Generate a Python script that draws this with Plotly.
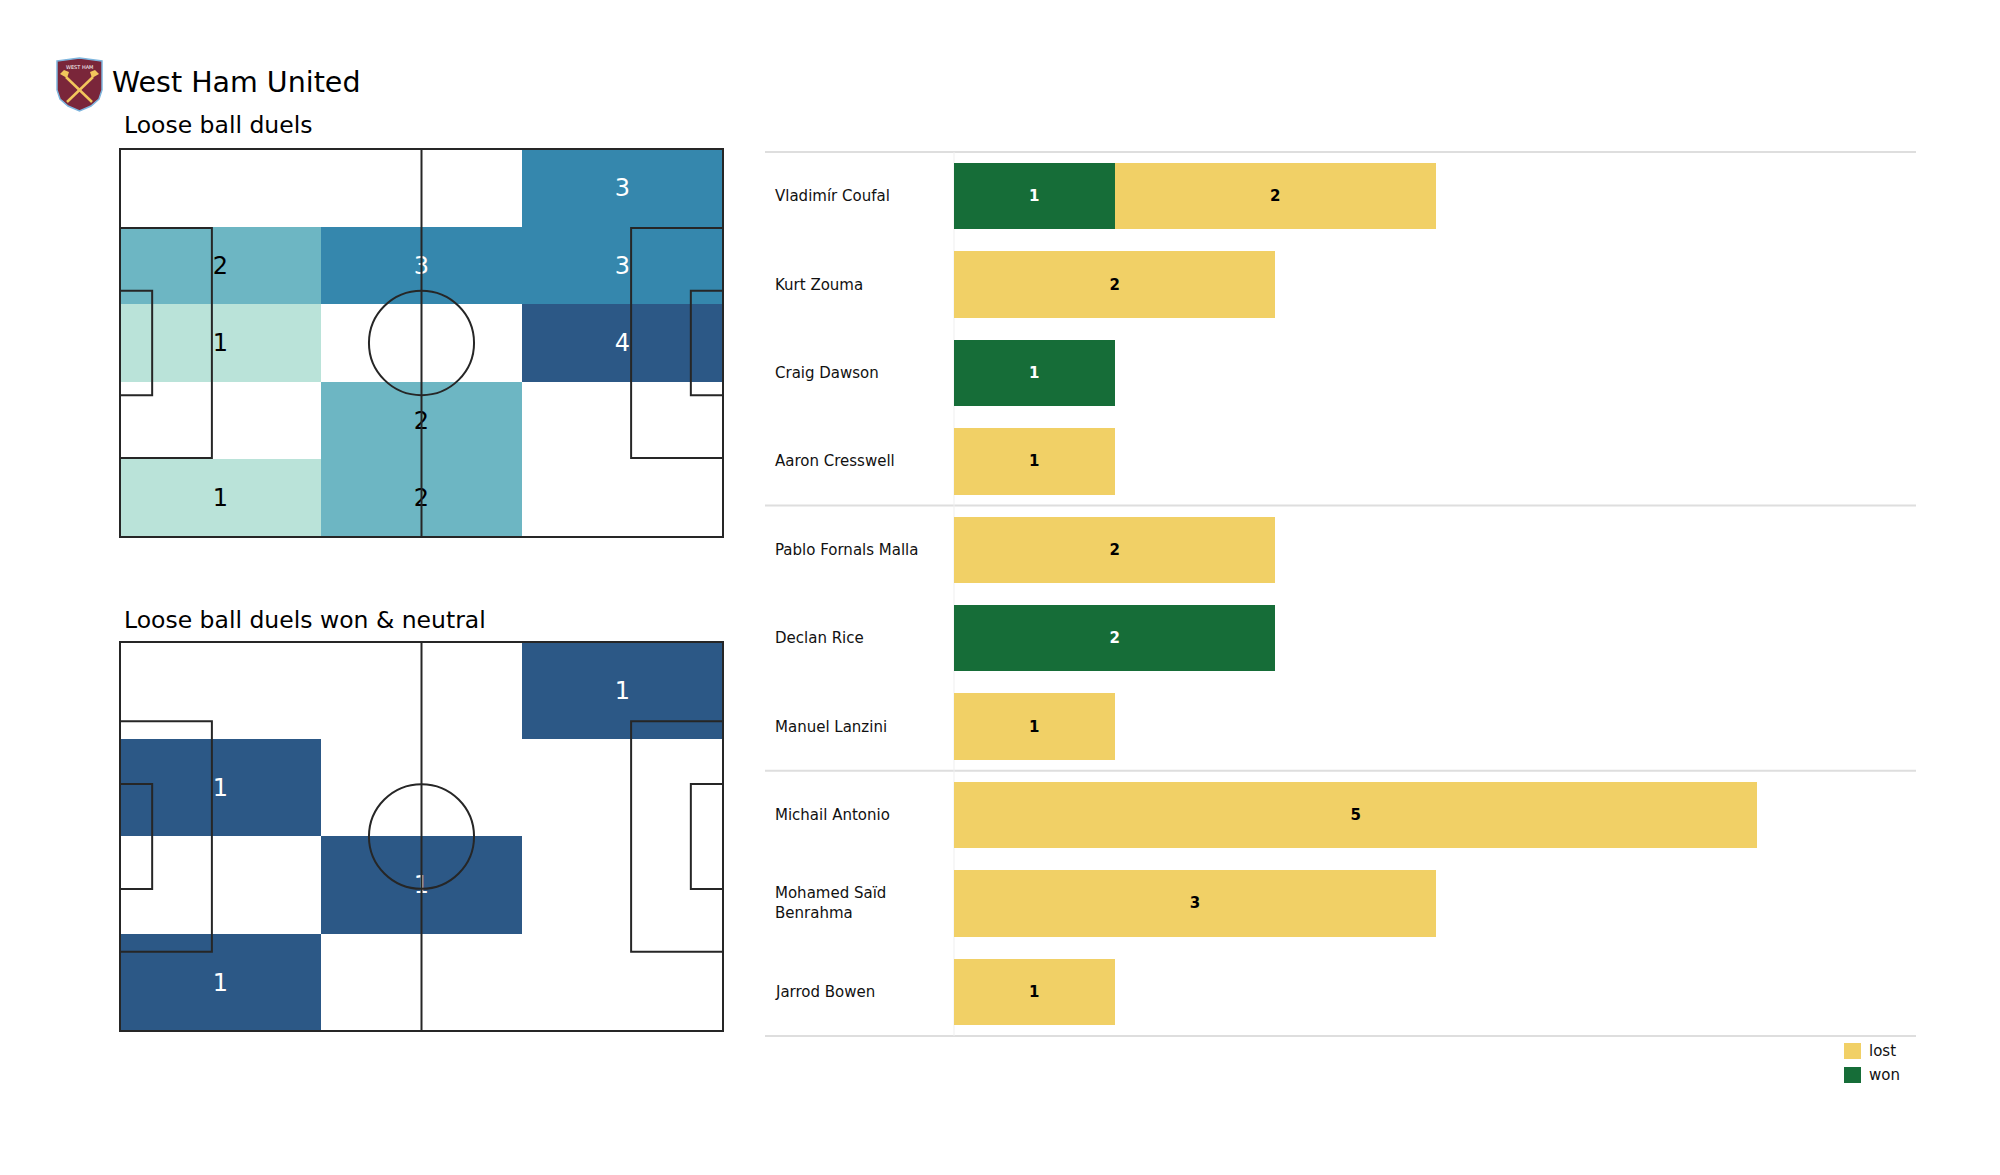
import plotly.graph_objects as go

W, H = 2000, 1175
OFF = 8  # default page margin of the html body

# ---------------- data ----------------
players = ["Vladimír Coufal", "Kurt Zouma", "Craig Dawson", "Aaron Cresswell",
           "Pablo Fornals Malla", "Declan Rice", "Manuel Lanzini",
           "Michail Antonio", "Mohamed Saïd Benrahma", "Jarrod Bowen"]
player_labels = ["Vladimír Coufal", "Kurt Zouma", "Craig Dawson", "Aaron Cresswell",
                 "Pablo Fornals Malla", "Declan Rice", "Manuel Lanzini",
                 "Michail Antonio", "Mohamed Saïd<br>Benrahma", "Jarrod Bowen"]
won = [1, 0, 1, 0, 0, 2, 0, 0, 0, 0]
lost = [2, 2, 0, 1, 2, 0, 1, 5, 3, 1]
group_sizes = [4, 3, 3]

# counts per zone, rows listed top to bottom, columns left to right
duels_grid = [
    [0, 0, 3],
    [2, 3, 3],
    [1, 0, 4],
    [0, 2, 0],
    [1, 2, 0],
]
won_neutral_grid = [
    [0, 0, 1],
    [1, 0, 0],
    [0, 1, 0],
    [1, 0, 0],
]

title = "West Ham United"
sub1 = "Loose ball duels"
sub2 = "Loose ball duels won & neutral"
legend_names = ["lost", "won"]

# ---------------- style ----------------
FONT = "DejaVu Sans"
C_WON = "#166d38"
C_LOST = "#f1d066"
HEAT_SCALE = [[0, "#ffffff"], [0.25, "#bae3d9"], [0.5, "#6db6c3"],
              [0.75, "#3587ad"], [1.0, "#2c5886"]]
LINE = "#262626"
PL, PW = 105.0, 68.0
BOX_D, BOX_W = 16.0, 40.32
GA_D, GA_W = 5.6, 18.32
CIRCLE_R = 9.15


def px(x):
    return (x - OFF) / W


def py(y):
    return 1 - (y - OFF) / H


fig = go.Figure()
shapes = []
annotations = []


def add_pitch(grid, xa, ya, x0, x1, y0, y1, pad=0.6):
    n_rows, n_cols = len(grid), len(grid[0])
    vmax = max(max(r) for r in grid)
    cw, rh = PL / n_cols, PW / n_rows
    xs = [(c + 0.5) * cw for c in range(n_cols)]
    ys = [(r + 0.5) * rh for r in range(n_rows)]  # bottom to top
    z = []
    for r in range(n_rows):
        row = grid[n_rows - 1 - r]
        z.append([v if v > 0 else None for v in row])
    fig.add_trace(go.Heatmap(x=xs, y=ys, z=z, zmin=0, zmax=vmax,
                             colorscale=HEAT_SCALE, showscale=False,
                             hoverinfo="skip", xaxis=xa, yaxis=ya))
    tx, ty, tt, tc = [], [], [], []
    for r in range(n_rows):
        for c in range(n_cols):
            v = grid[r][c]
            if v > 0:
                tx.append(xs[c])
                ty.append(PW - (r + 0.5) * rh - 0.4)
                tt.append(str(v))
                tc.append("white" if v / vmax > 0.6 else "black")
    fig.add_trace(go.Scatter(x=tx, y=ty, text=tt, mode="text",
                             textfont=dict(family=FONT, size=24, color=tc),
                             textposition="middle center", hoverinfo="skip",
                             showlegend=False, xaxis=xa, yaxis=ya))
    sx = (x1 - x0) / PL
    sy = (y1 - y0) / PW
    xk = "xaxis" + xa[1:]
    yk = "yaxis" + ya[1:]
    fig.update_layout(**{
        xk: dict(domain=[px(x0 - pad * sx), px(x1 + pad * sx)], range=[-pad, PL + pad],
                 visible=False, anchor=ya, fixedrange=True),
        yk: dict(domain=[py(y1 + pad * sy), py(y0 - pad * sy)], range=[-pad, PW + pad],
                 visible=False, anchor=xa, fixedrange=True),
    })
    ln = dict(color=LINE, width=2)
    ref = dict(xref=xa, yref=ya)

    def rect(a, b, c, d):
        shapes.append(dict(type="rect", x0=a, x1=b, y0=c, y1=d, line=ln,
                           fillcolor="rgba(0,0,0,0)", **ref))

    rect(0, PL, 0, PW)
    shapes.append(dict(type="line", x0=PL / 2, x1=PL / 2, y0=0, y1=PW, line=ln, **ref))
    rect(0, BOX_D, PW / 2 - BOX_W / 2, PW / 2 + BOX_W / 2)
    rect(PL - BOX_D, PL, PW / 2 - BOX_W / 2, PW / 2 + BOX_W / 2)
    rect(0, GA_D, PW / 2 - GA_W / 2, PW / 2 + GA_W / 2)
    rect(PL - GA_D, PL, PW / 2 - GA_W / 2, PW / 2 + GA_W / 2)
    shapes.append(dict(type="circle", x0=PL / 2 - CIRCLE_R, x1=PL / 2 + CIRCLE_R,
                       y0=PW / 2 - CIRCLE_R, y1=PW / 2 + CIRCLE_R, line=ln, **ref))


add_pitch(duels_grid, "x2", "y2", 120, 723, 149, 537)
add_pitch(won_neutral_grid, "x3", "y3", 120, 723, 642, 1031)

# ---------------- bars ----------------
fig.add_trace(go.Bar(
    y=players, x=[v if v > 0 else None for v in won], orientation="h", name="won",
    marker=dict(color=C_WON, line=dict(width=0)), width=0.75,
    texttemplate="<b>%{x}</b>", textposition="inside", insidetextanchor="middle",
    textangle=0, textfont=dict(family=FONT, size=15, color="white"),
    hoverinfo="x+y", xaxis="x", yaxis="y", showlegend=False))
fig.add_trace(go.Bar(
    y=players, x=[v if v > 0 else None for v in lost], orientation="h", name="lost",
    marker=dict(color=C_LOST, line=dict(width=0)), width=0.75,
    texttemplate="<b>%{x}</b>", textposition="inside", insidetextanchor="middle",
    textangle=0, textfont=dict(family=FONT, size=15, color="black"),
    hoverinfo="x+y", xaxis="x", yaxis="y", showlegend=False))

BX0, BX1 = 954, 1918
BY0, BY1 = 152, 1036
fig.update_layout(
    xaxis=dict(domain=[px(BX0), px(BX1)], range=[0, 6], visible=False, anchor="y",
               fixedrange=True),
    yaxis=dict(domain=[py(BY1), py(BY0)], type="category", categoryarray=players,
               categoryorder="array", range=[len(players) - 0.5, -0.5],
               visible=False, anchor="x", fixedrange=True),
    barmode="stack",
)

for name, lab in zip(players, player_labels):
    annotations.append(dict(x=px(773), xref="paper", y=name, yref="y", text=lab,
                            xanchor="left", yanchor="middle", showarrow=False, align="left",
                            font=dict(family=FONT, size=15, color="#111111")))

row_h = (BY1 - BY0) / len(players)
bounds = [0]
for g in group_sizes:
    bounds.append(bounds[-1] + g)
for b in bounds:
    yy = BY0 + b * row_h
    shapes.append(dict(type="line", xref="paper", yref="paper", x0=px(765), x1=px(1916),
                       y0=py(yy), y1=py(yy), line=dict(color="#dedede", width=2), layer="below"))
shapes.append(dict(type="line", xref="paper", yref="paper", x0=px(BX0), x1=px(BX0),
                   y0=py(BY0), y1=py(BY1), line=dict(color="#efefef", width=1), layer="below"))

# ---------------- legend (drawn) ----------------
for i, (nm, col) in enumerate(zip(legend_names, [C_LOST, C_WON])):
    yc = 1051 + i * 24
    shapes.append(dict(type="rect", xref="paper", yref="paper", x0=px(1844), x1=px(1861),
                       y0=py(yc - 8), y1=py(yc + 8), fillcolor=col, line=dict(width=0)))
    annotations.append(dict(x=px(1867), y=py(yc), xref="paper", yref="paper", text=nm,
                            xanchor="left", yanchor="middle", showarrow=False,
                            font=dict(family=FONT, size=15, color="#111111")))

# ---------------- titles ----------------
annotations.append(dict(x=px(110), y=py(83), xref="paper", yref="paper", text=title,
                        xanchor="left", yanchor="middle", showarrow=False,
                        font=dict(family=FONT, size=28.5, color="black")))
annotations.append(dict(x=px(122), y=py(125), xref="paper", yref="paper", text=sub1,
                        xanchor="left", yanchor="middle", showarrow=False,
                        font=dict(family=FONT, size=23.5, color="black")))
annotations.append(dict(x=px(122), y=py(620), xref="paper", yref="paper", text=sub2,
                        xanchor="left", yanchor="middle", showarrow=False,
                        font=dict(family=FONT, size=23.5, color="black")))


# ---------------- crest (simple drawing) ----------------
def path(points):
    s = ""
    for i, (a, b) in enumerate(points):
        s += ("M" if i == 0 else "L") + f"{px(a):.5f},{py(b):.5f} "
    return s + "Z"


shield = [(57, 61), (79.5, 58), (102, 61), (102, 90), (99, 99), (91, 106), (79.5, 111),
          (68, 106), (60, 99), (57, 90)]
shapes.append(dict(type="path", xref="paper", yref="paper", path=path(shield),
                   fillcolor="#7a263a", line=dict(color="#7fb6de", width=1.5)))
for (a0, b0, a1, b1) in [(66, 77, 92, 102), (93, 77, 67, 102)]:
    shapes.append(dict(type="line", xref="paper", yref="paper", x0=px(a0), y0=py(b0),
                       x1=px(a1), y1=py(b1), line=dict(color="#f2c75c", width=2.5)))
for side in (1, -1):
    hx, hy = (66, 77) if side == 1 else (93, 77)
    pts = [(hx - 6 * side, hy - 3), (hx - 2 * side, hy - 7), (hx + 3 * side, hy - 5),
           (hx + 1 * side, hy + 1)]
    shapes.append(dict(type="path", xref="paper", yref="paper", path=path(pts),
                       fillcolor="#f2c75c", line=dict(width=0)))
annotations.append(dict(x=px(79.5), y=py(67), xref="paper", yref="paper", text="WEST HAM",
                        showarrow=False, font=dict(family=FONT, size=5, color="white"),
                        xanchor="center", yanchor="middle"))

fig.update_layout(
    width=W, height=H, margin=dict(l=0, r=0, t=0, b=0),
    paper_bgcolor="white", plot_bgcolor="rgba(0,0,0,0)",
    shapes=shapes, annotations=annotations,
    showlegend=False,
    font=dict(family=FONT),
)

fig.write_html("out.html")
